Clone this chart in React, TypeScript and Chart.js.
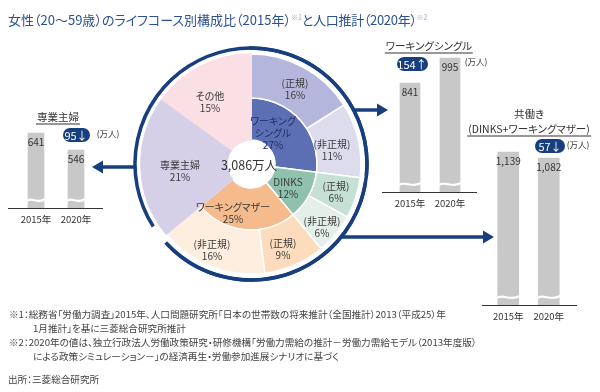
import React, { useEffect, useRef } from "react";
import { Chart, registerables } from "chart.js";

Chart.register(...registerables);

// ---------------- data ----------------
const lifeCourses = ["ワーキング\nシングル", "DINKS", "ワーキングマザー", "専業主婦", "その他"];
const lifeCourseShare = [27, 12, 25, 21, 15];
const employmentTypes = ["正規", "非正規", "正規", "非正規", "正規", "非正規", "専業主婦", "その他"];
const employmentShare = [16, 11, 6, 6, 9, 16, 21, 15];
const totalPopulation = "3,086万人";

const years = ["2015年", "2020年"];
const housewives = [641, 546];
const workingSingles = [841, 995];
const dualIncome = [1139, 1082];
const changes = ["95↓", "154↑", "57↓"];
const unitLabel = "(万人)";
const panelTitles = ["専業主婦", "ワーキングシングル", "(DINKS+ワーキングマザー)"];
const panelSuper = "共働き";

const titleMain = "女性（20～59歳）のライフコース別構成比（2015年）";
const titleMid = "と人口推計（2020年）";
const notes = [
  "※1：総務省「労働力調査」2015年、人口問題研究所「日本の世帯数の将来推計（全国推計）2013（平成25）年",
  "1月推計」を基に三菱総合研究所推計",
  "※2：2020年の値は、独立行政法人労働政策研究・研修機構「労働力需給の推計－労働力需給モデル（2013年度版）",
  "による政策シミュレーション－」の経済再生・労働参加進展シナリオに基づく",
];
const source = "出所：三菱総合研究所";

// ---------------- styles ----------------
const FONT = '"Noto Sans CJK JP", "Noto Sans", sans-serif';
const NAVY = "#173e7e";
const innerColors = ["#5d6fb3", "#8fc1ae", "#f5bb8c", "#d6cfe8", "#fadfe4"];
const outerColors = ["#b4b7db", "#dcdced", "#c7e0d5", "#e5efe9", "#fcdcbd", "#fdeedf", "#d6cfe8", "#fadfe4"];
const BAR_GRAY = "#c8c8c8";

const PIE_CX = 251;
const PIE_CY = 164;
const PIE_R = 110;
const HOLE_R = 24;
const ARC_R = 116;

const arcsPlugin = {
  id: "arcsPlugin",
  afterDatasetsDraw(chart: any) {
    const els = chart.getDatasetMeta(1).data as any[];
    if (!els.length) return;
    const cx = els[0].x;
    const cy = els[0].y;
    const ctx = chart.ctx as CanvasRenderingContext2D;
    const deg = Math.PI / 180;
    ctx.save();
    ctx.strokeStyle = NAVY;
    ctx.fillStyle = NAVY;
    ctx.lineWidth = 3.5;
    const groups: [number, number, number, number][] = [
      [0, 0, -1, -1.5],
      [1, 2, 2, -3],
      [3, 3, 7, -4],
    ];
    groups.forEach(([a, b, s, e]) => {
      ctx.beginPath();
      ctx.arc(cx, cy, ARC_R, els[a].startAngle + s * deg, els[b].endAngle + e * deg);
      ctx.stroke();
    });
    const arrows = [
      { y: 110, tip: 388, dir: 1 },
      { y: 237, tip: 494, dir: 1 },
      { y: 167, tip: 92, dir: -1 },
    ];
    arrows.forEach(({ y, tip, dir }) => {
      const dy = y - cy;
      const x0 = cx + dir * Math.sqrt(ARC_R * ARC_R - dy * dy);
      const headBase = tip - dir * 11;
      ctx.beginPath();
      ctx.moveTo(x0, y);
      ctx.lineTo(headBase, y);
      ctx.stroke();
      ctx.beginPath();
      ctx.moveTo(tip, y);
      ctx.lineTo(headBase, y - 6.5);
      ctx.lineTo(headBase, y + 6.5);
      ctx.closePath();
      ctx.fill();
    });
    ctx.restore();
  },
};

function PieChart() {
  const ref = useRef<HTMLCanvasElement>(null);
  useEffect(() => {
    if (!ref.current) return;
    const half = 120;
    const chart = new Chart(ref.current, {
      type: "doughnut",
      data: {
        labels: employmentTypes,
        datasets: [
          {
            data: employmentShare,
            backgroundColor: outerColors,
            borderColor: outerColors.map((c, i) => (i >= 6 ? c : "#ffffff")),
            borderWidth: 1.5,
            weight: PIE_R - 66,
          } as any,
          {
            data: [...lifeCourseShare.slice(0, 3), 0, 0, 0, lifeCourseShare[3], lifeCourseShare[4]],
            backgroundColor: [...innerColors.slice(0, 3), "#fff", "#fff", "#fff", innerColors[3], innerColors[4]],
            borderColor: ["#ffffff", "#ffffff", "#ffffff", "#fff", "#fff", "#fff", innerColors[3], innerColors[4]],
            borderWidth: 1.5,
            weight: 66 - HOLE_R,
          } as any,
        ],
      },
      options: {
        responsive: false,
        animation: false,
        radius: PIE_R,
        cutout: `${(HOLE_R / PIE_R) * 100}%`,
        layout: {
          padding: {
            left: PIE_CX - half,
            top: PIE_CY - half,
            right: 600 - (PIE_CX + half),
            bottom: 392 - (PIE_CY + half),
          },
        },
        plugins: { legend: { display: false }, tooltip: { enabled: false } },
        events: [],
      } as any,
      plugins: [arcsPlugin],
    });
    return () => chart.destroy();
  }, []);
  return (
    <canvas
      ref={ref}
      width={600}
      height={392}
      style={{ position: "absolute", left: 0, top: 0, width: 600, height: 392 }}
    />
  );
}

const barDecorPlugin = {
  id: "barDecor",
  afterDatasetsDraw(chart: any) {
    const ctx = chart.ctx as CanvasRenderingContext2D;
    const area = chart.chartArea;
    const meta = chart.getDatasetMeta(0);
    const values = chart.data.datasets[0].data as number[];
    ctx.save();
    meta.data.forEach((bar: any, i: number) => {
      const w = bar.width;
      const x0 = bar.x - w / 2 - 1;
      const x1 = bar.x + w / 2 + 1;
      const y = area.bottom - 8;
      ctx.strokeStyle = "#ffffff";
      ctx.lineWidth = 2.2;
      ctx.beginPath();
      ctx.moveTo(x0, y + 1);
      ctx.bezierCurveTo(x0 + (x1 - x0) * 0.3, y - 4, x0 + (x1 - x0) * 0.55, y + 5, x1, y - 1);
      ctx.stroke();
      ctx.fillStyle = "#333";
      ctx.font = `10px ${FONT}`;
      ctx.textAlign = "center";
      ctx.textBaseline = "middle";
      ctx.fillText(values[i].toLocaleString("en-US"), bar.x, bar.y + 9);
      ctx.font = `9.5px ${FONT}`;
      ctx.fillText(years[i], bar.x, area.bottom + 11);
    });
    ctx.strokeStyle = "#333";
    ctx.lineWidth = 1.2;
    ctx.beginPath();
    ctx.moveTo(0, area.bottom + 0.5);
    ctx.lineTo(chart.width, area.bottom + 0.5);
    ctx.stroke();
    ctx.restore();
  },
};

function BarPanel(props: {
  values: number[];
  left: number;
  top: number;
  height: number;
  padL: number;
  padR: number;
  min: number;
  max: number;
  thickness: number;
}) {
  const ref = useRef<HTMLCanvasElement>(null);
  const W = 95;
  useEffect(() => {
    if (!ref.current) return;
    const chart = new Chart(ref.current, {
      type: "bar",
      data: {
        labels: years,
        datasets: [
          {
            data: props.values,
            backgroundColor: BAR_GRAY,
            barThickness: props.thickness,
            base: props.min,
            borderWidth: 0,
          } as any,
        ],
      },
      options: {
        responsive: false,
        animation: false,
        layout: { padding: { left: props.padL, right: props.padR, top: 5, bottom: 18 } },
        scales: {
          x: { display: false },
          y: { display: false, min: props.min, max: props.max },
        },
        plugins: { legend: { display: false }, tooltip: { enabled: false } },
        events: [],
      } as any,
      plugins: [barDecorPlugin],
    });
    return () => chart.destroy();
  }, []);
  return (
    <canvas
      ref={ref}
      width={W}
      height={props.height}
      style={{ position: "absolute", left: props.left, top: props.top, width: W, height: props.height }}
    />
  );
}

function T(props: {
  x: number;
  y: number;
  size?: number;
  color?: string;
  anchor?: "center" | "left";
  lh?: number;
  style?: React.CSSProperties;
  children: React.ReactNode;
}) {
  const { x, y, size = 10, color = "#333", anchor = "center", lh, style } = props;
  return (
    <div
      style={{
        position: "absolute",
        left: x,
        top: y,
        transform: anchor === "center" ? "translate(-50%, -50%)" : "translate(0, -50%)",
        fontSize: size,
        color,
        lineHeight: lh ? `${lh}px` : "1.15",
        whiteSpace: "pre",
        textAlign: anchor === "center" ? "center" : "left",
        fontFeatureSettings: '"palt"',
        ...style,
      }}
    >
      {props.children}
    </div>
  );
}

function Pill(props: { x: number; y: number; w: number; text: string }) {
  return (
    <div
      style={{
        position: "absolute",
        left: props.x - props.w / 2,
        top: props.y - 7,
        width: props.w,
        height: 14,
        borderRadius: 7,
        background: NAVY,
        color: "#fff",
        fontSize: 11,
        lineHeight: "14px",
        textAlign: "center",
      }}
    >
      {props.text}
    </div>
  );
}

function Underlined(props: { x: number; y: number; text: string; size?: number }) {
  return (
    <div
      style={{
        position: "absolute",
        left: props.x,
        top: props.y,
        transform: "translate(-50%, -50%)",
        fontSize: props.size || 10.5,
        color: "#333",
        lineHeight: "13px",
        whiteSpace: "pre",
        borderBottom: "1px solid #333",
        padding: "0 1px 1px 1px",
        fontFeatureSettings: '"palt"',
      }}
    >
      {props.text}
    </div>
  );
}

const innerLabelPos = [
  [273, 133],
  [288, 188],
  [233, 213],
  [180, 171],
  [210, 102],
];
const outerLabelPos = [
  [295, 88],
  [332, 149],
  [336, 191],
  [322, 226],
  [283, 248],
  [212, 249],
];

export default function App() {
  return (
    <div
      style={{
        position: "absolute",
        left: 0,
        top: 0,
        width: 600,
        height: 392,
        background: "#fff",
        overflow: "hidden",
        fontFamily: FONT,
      }}
    >
      <PieChart />

      {/* title */}
      <div
        style={{
          position: "absolute",
          left: 8,
          top: 9,
          fontSize: 13,
          color: "#2a5193",
          whiteSpace: "pre",
          lineHeight: "16px",
          fontFeatureSettings: '"palt"',
        }}
      >
        {titleMain}
        <span style={{ fontSize: 7, color: "#9aa8c8", verticalAlign: "5px" }}>※1</span>
        <span style={{ letterSpacing: "-0.3px" }}>{titleMid}</span>
        <span style={{ fontSize: 7, color: "#9aa8c8", verticalAlign: "5px" }}>※2</span>
      </div>

      {/* pie labels */}
      {lifeCourses.map((name, i) => (
        <T
          key={"in" + i}
          x={innerLabelPos[i][0]}
          y={innerLabelPos[i][1]}
          size={10}
          lh={12}
          color={i === 0 ? "#1f2f6c" : "#3a3a3a"}
        >
          {`${name}\n${lifeCourseShare[i]}%`}
        </T>
      ))}
      {outerLabelPos.map((p, i) => (
        <T key={"out" + i} x={p[0]} y={p[1]} size={10} lh={11.5} color="#3a3a3a">
          {`(${employmentTypes[i]})\n${employmentShare[i]}%`}
        </T>
      ))}
      <T x={249} y={165} size={12.5} color="#333">
        {totalPopulation}
      </T>

      {/* bar panels */}
      <BarPanel values={housewives} left={8} top={95} height={131} padL={8} padR={7} min={222} max={826} thickness={16} />
      <BarPanel values={workingSingles} left={382} top={35} height={175} padL={8} padR={7} min={170} max={1106} thickness={20} />
      <BarPanel values={dualIncome} left={482} top={135} height={188} padL={6} padR={8} min={-318} max={1253} thickness={21} />

      <Underlined x={58} y={117} text={panelTitles[0]} />
      <Underlined x={429} y={46} text={panelTitles[1]} />
      <T x={529} y={114} size={10.5}>
        {panelSuper}
      </T>
      <Underlined x={529} y={129} text={panelTitles[2]} />

      <Pill x={76} y={135} w={27} text={changes[0]} />
      <Pill x={412} y={64} w={31} text={changes[1]} />
      <Pill x={550} y={146} w={30} text={changes[2]} />
      <T x={108} y={134} size={8.5}>
        {unitLabel}
      </T>
      <T x={476} y={62} size={8.5}>
        {unitLabel}
      </T>
      <T x={578} y={145} size={8.5}>
        {unitLabel}
      </T>

      {/* footnotes */}
      <T x={9} y={315} size={9.6} anchor="left" color="#444">
        {notes[0]}
      </T>
      <T x={33} y={329} size={9.6} anchor="left" color="#444">
        {notes[1]}
      </T>
      <T x={9} y={343} size={9.6} anchor="left" color="#444">
        {notes[2]}
      </T>
      <T x={33} y={357} size={9.6} anchor="left" color="#444">
        {notes[3]}
      </T>
      <T x={8} y={380} size={9.6} anchor="left" color="#444">
        {source}
      </T>
    </div>
  );
}
